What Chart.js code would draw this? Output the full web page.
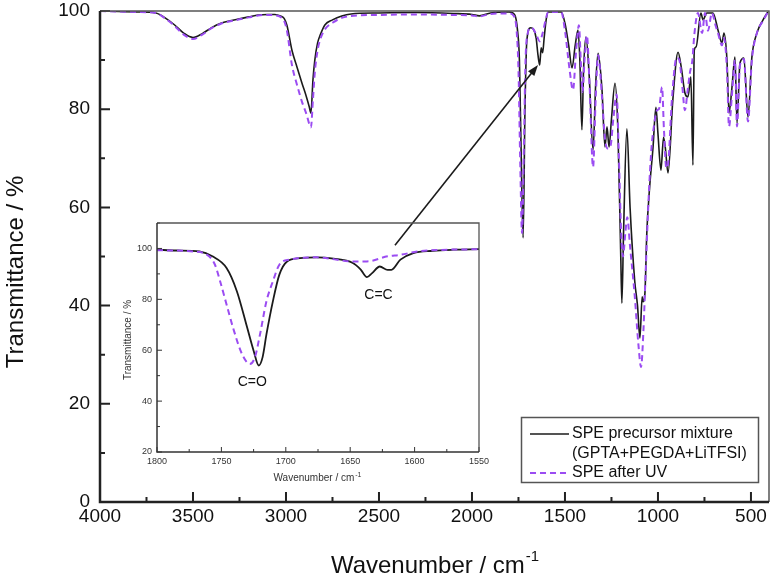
<!DOCTYPE html>
<html>
<head>
<meta charset="utf-8">
<script src="https://cdn.jsdelivr.net/npm/chart.js@4.4.1/dist/chart.umd.min.js"></script>
<style>
  html, body { margin: 0; padding: 0; background: #fff; }
  #wrap { position: relative; width: 774px; height: 577px; }
  #wrap canvas { position: absolute; left: 0; top: 0; }
</style>
</head>
<body>
<div id="wrap">
  <canvas id="main" width="774" height="577"></canvas>
  <canvas id="inset" width="774" height="577"></canvas>
</div>
<script>
const FONT = "'Liberation Sans', Arial, sans-serif";
const BLACK = '#1b1b1b';
const PURPLE = '#9b4cf2';

// main FTIR spectra (wavenumber cm-1, transmittance %)
const precursorWn = [4000,3900,3800,3700,3650,3600,3550,3500,3450,3400,3350,3300,3250,3200,3150,3100,3060,3030,3010,2995,2968,2941,2914,2890,2875,2866,2855,2845,2830,2815,2790,2750,2700,2650,2500,2300,2100,2000,1960,1900,1800,1770,1755,1745,1735,1725,1715,1705,1685,1670,1655,1645,1636,1628,1620,1612,1600,1590,1520,1500,1480,1462,1445,1430,1420,1409,1400,1387,1370,1349,1335,1322,1301,1285,1274,1263,1250,1231,1215,1200,1194,1185,1167,1150,1125,1110,1097,1085,1080,1070,1060,1045,1027,1011,1000,984,970,960,946,920,892,875,855,839,823,812,805,795,769,758,737,704,677,656,645,629,618,602,586,575,559,538,516,495,468,435,409];
const precursorT = [100,99.9,99.8,99.6,98.6,97.2,95.5,94.6,95.4,96.6,97.5,98.0,98.4,98.8,99.2,99.3,99.3,99.0,98.5,97.1,92,88.6,85.3,82.5,80.5,79.2,86,90,93.5,95.2,97.2,98.2,99,99.4,99.6,99.7,99.5,99.3,99.0,99.6,99.8,99.2,96,90,70,53.8,80,94,96.6,96.3,94.5,91,89,92.5,91.5,94.5,98.5,99.8,99.8,97.5,93,88.4,93,96.1,90,75.8,88,94.7,87,71.7,85,91.4,84,72.3,76.4,72.3,78,85.3,75.2,50,40.5,55,76,60,45,40,33.4,41.8,40.8,42.6,54.8,64,72,80.4,75,67.6,74.3,72,67,81.9,91.6,88.6,83.3,82.5,86.6,68.6,92,92.7,99.6,98.2,99.6,99.6,96.1,93.5,95.5,90,79.2,84.5,90.6,77.2,89.4,90.4,78.4,90.6,95.5,98.2,99.8];

const uvWn = [4000,3900,3800,3700,3650,3600,3550,3500,3450,3400,3350,3300,3250,3200,3150,3100,3060,3030,3010,2995,2968,2941,2914,2890,2875,2866,2855,2845,2830,2815,2790,2750,2700,2650,2500,2300,2100,2000,1960,1900,1800,1775,1760,1750,1740,1731,1722,1712,1700,1685,1670,1650,1636,1620,1605,1590,1520,1500,1475,1457,1440,1425,1415,1405,1395,1382,1368,1349,1335,1322,1300,1285,1270,1255,1240,1222,1210,1198,1188,1175,1165,1150,1125,1105,1091,1078,1065,1050,1035,1020,1005,995,978,968,955,945,925,900,885,870,855,840,828,815,805,785,763,747,731,710,690,677,656,645,629,618,602,586,575,559,538,516,495,468,435,409];
const uvT = [100,99.9,99.8,99.6,98.5,97.0,95.2,94.3,95.2,96.5,97.4,97.9,98.3,98.7,99.1,99.2,99.1,98.8,98,96,89,85,81.5,79,77,76.3,82,87.5,92,94.3,96.3,97.6,98.6,99.0,99.2,99.3,99.2,99.1,98.9,99.4,99.5,99,96,88,68,54.8,70,90,95.5,96.6,96.3,94.8,93.8,95.5,98,99.8,99.8,96,88,83.9,92,97.1,90,83.5,90,95,85,68.2,82,91,82,74,72,72.5,78,83,70,55,50,55,58,52,42,32,27.5,35,48,62,72,77,79.8,80,84.5,76,68,69,82,90.5,90,85,79.8,84,87.5,90,95,99.6,95.5,99.6,96,99.6,97,95.5,93,94.5,88,76.5,83,90,76.5,89,90.2,77.5,90,95.5,98,99.8];

// inset: carbonyl / vinyl region
const insetPrecursorWn = [1800,1785,1767,1757,1746,1738,1730,1725,1721,1718,1715,1710,1705,1699,1689,1676,1663,1648,1642,1637,1633,1627,1621,1618,1611,1601,1586,1570,1550];
const insetPrecursorT = [99.5,99.2,98.8,96.9,92.3,83.2,68.9,59.8,54,57.3,66.3,79.3,89.7,94.9,96.2,96.5,96,94.3,91.8,88.7,90.3,92.9,91.6,91.6,95.6,98.2,99.1,99.5,99.7];
const insetUvWn = [1800,1772,1761,1755,1751,1746,1741,1734,1728,1724,1720,1715,1710,1705,1697,1676,1648,1637,1621,1611,1598,1580,1550];
const insetUvT = [99.3,98.8,97.5,93.6,87.1,78,68.9,58.5,54.6,57.2,66.3,79.3,87.1,93.6,95.6,96.5,94.9,94.9,96.9,97.5,98.8,99.4,99.7];

const mainXTicks = [4000,3500,3000,2500,2000,1500,1000,500];
const mainYTicks = [0,20,40,60,80,100];
const insetXTicks = [1800,1750,1700,1650,1600,1550];
const insetYTicks = [20,40,60,80,100];

const seriesNames = ['SPE precursor mixture', '(GPTA+PEGDA+LiTFSI)', 'SPE after UV'];
const bandLabels = [{text: 'C=O', wn: 1726, t: 47.3}, {text: 'C=C', wn: 1628, t: 81.7}];
const arrowFrom = [2414, 52.3];
const arrowTo = [1645, 89];

const pts = (xs, ys) => xs.map((x, i) => ({x: x, y: ys[i]}));
const plain = v => String(v);

function drawFrame(chart, f) {
  const {ctx, chartArea: a, scales: {x, y}} = chart;
  ctx.save();
  ctx.strokeStyle = f.color;
  ctx.lineWidth = f.tickWidth;
  ctx.beginPath();
  for (let v = Math.ceil(x.min / f.xMinor) * f.xMinor; v <= x.max; v += f.xMinor) {
    const len = v % f.xMajor === 0 ? f.major : f.minor;
    const px = x.getPixelForValue(v);
    ctx.moveTo(px, a.bottom); ctx.lineTo(px, a.bottom - len);
  }
  for (let v = Math.ceil(y.min / f.yMinor) * f.yMinor; v <= y.max; v += f.yMinor) {
    const len = v % f.yMajor === 0 ? f.major : f.minor;
    const py = y.getPixelForValue(v);
    ctx.moveTo(a.left, py); ctx.lineTo(a.left + len, py);
  }
  ctx.stroke();
  ctx.lineWidth = f.boxWidth;
  ctx.strokeStyle = f.boxColor;
  ctx.beginPath();
  ctx.moveTo(a.left, a.top); ctx.lineTo(a.right, a.top); ctx.lineTo(a.right, a.bottom);
  ctx.stroke();
  ctx.lineWidth = f.axisWidth;
  ctx.strokeStyle = f.color;
  ctx.beginPath();
  ctx.moveTo(a.left, a.top); ctx.lineTo(a.left, a.bottom); ctx.lineTo(a.right, a.bottom);
  ctx.stroke();
  ctx.restore();
}

// title with a "-1" superscript after the main text
function drawWavenumberTitle(ctx, cx, baseline, size, supSize, rise) {
  const main = 'Wavenumber / cm', sup = '-1';
  ctx.font = size + 'px ' + FONT;
  const w1 = ctx.measureText(main).width;
  ctx.font = supSize + 'px ' + FONT;
  const w2 = ctx.measureText(sup).width;
  const x0 = cx - (w1 + w2) / 2;
  ctx.textAlign = 'left';
  ctx.textBaseline = 'alphabetic';
  ctx.font = size + 'px ' + FONT;
  ctx.fillText(main, x0, baseline);
  ctx.font = supSize + 'px ' + FONT;
  ctx.fillText(sup, x0 + w1 + 1, baseline - rise);
}

const mainDecor = {
  id: 'mainDecor',
  afterDraw(chart) {
    const {ctx, scales: {x, y}} = chart;
    drawFrame(chart, {color: '#222', boxColor: '#555', tickWidth: 2, axisWidth: 2.5, boxWidth: 1.5,
      major: 10, minor: 5, xMajor: 500, xMinor: 250, yMajor: 20, yMinor: 10});

    // arrow from the inset to the C=C band
    const x1 = x.getPixelForValue(arrowFrom[0]), y1 = y.getPixelForValue(arrowFrom[1]);
    const x2 = x.getPixelForValue(arrowTo[0]), y2 = y.getPixelForValue(arrowTo[1]);
    const ang = Math.atan2(y2 - y1, x2 - x1);
    ctx.save();
    ctx.strokeStyle = BLACK; ctx.fillStyle = BLACK; ctx.lineWidth = 1.6;
    ctx.beginPath();
    ctx.moveTo(x1, y1);
    ctx.lineTo(x2 - 8 * Math.cos(ang), y2 - 8 * Math.sin(ang));
    ctx.stroke();
    ctx.beginPath();
    ctx.moveTo(x2, y2);
    ctx.lineTo(x2 - 11 * Math.cos(ang) + 4 * Math.sin(ang), y2 - 11 * Math.sin(ang) - 4 * Math.cos(ang));
    ctx.lineTo(x2 - 11 * Math.cos(ang) - 4 * Math.sin(ang), y2 - 11 * Math.sin(ang) + 4 * Math.cos(ang));
    ctx.closePath();
    ctx.fill();

    // axis titles
    ctx.fillStyle = '#111';
    ctx.font = '24px ' + FONT;
    ctx.save();
    ctx.translate(23, 272);
    ctx.rotate(-Math.PI / 2);
    ctx.textAlign = 'center';
    ctx.textBaseline = 'alphabetic';
    ctx.fillText('Transmittance / %', 0, 0);
    ctx.restore();
    drawWavenumberTitle(ctx, 434.5, 573, 24, 15, 12);

    // legend
    ctx.lineWidth = 1.5;
    ctx.strokeStyle = '#555';
    ctx.strokeRect(521.5, 417.5, 237, 65);
    ctx.lineWidth = 1.6;
    ctx.strokeStyle = BLACK;
    ctx.beginPath(); ctx.moveTo(530, 434); ctx.lineTo(569, 434); ctx.stroke();
    ctx.lineWidth = 2;
    ctx.strokeStyle = PURPLE;
    ctx.setLineDash([6, 4]);
    ctx.beginPath(); ctx.moveTo(530, 473); ctx.lineTo(569, 473); ctx.stroke();
    ctx.setLineDash([]);
    ctx.fillStyle = '#111';
    ctx.font = '16px ' + FONT;
    ctx.textAlign = 'left';
    ctx.textBaseline = 'middle';
    ctx.fillText(seriesNames[0], 572, 434);
    ctx.fillText(seriesNames[1], 572, 454);
    ctx.fillText(seriesNames[2], 572, 473);
    ctx.restore();
  }
};

const insetDecor = {
  id: 'insetDecor',
  afterDraw(chart) {
    const {ctx, scales: {x, y}} = chart;
    drawFrame(chart, {color: '#333', boxColor: '#555', tickWidth: 1, axisWidth: 1.5, boxWidth: 1.3,
      major: 5, minor: 3, xMajor: 50, xMinor: 25, yMajor: 20, yMinor: 10});
    ctx.save();
    ctx.fillStyle = '#111';
    ctx.font = '14px ' + FONT;
    ctx.textAlign = 'center';
    ctx.textBaseline = 'middle';
    bandLabels.forEach(b => ctx.fillText(b.text, x.getPixelForValue(b.wn), y.getPixelForValue(b.t)));
    ctx.fillStyle = '#333';
    ctx.font = '10px ' + FONT;
    ctx.save();
    ctx.translate(128, 340);
    ctx.rotate(-Math.PI / 2);
    ctx.fillText('Transmittance / %', 0, 0);
    ctx.restore();
    drawWavenumberTitle(ctx, 317, 481, 10, 7, 4);
    ctx.restore();
  }
};

const lineSet = (label, data, color, width, dash, order) => ({
  label: label, data: data, borderColor: color, borderWidth: width, borderDash: dash,
  pointRadius: 0, fill: false, cubicInterpolationMode: 'monotone', order: order
});

new Chart(document.getElementById('main'), {
  type: 'line',
  data: {
    datasets: [
      lineSet(seriesNames[0], pts(precursorWn, precursorT), BLACK, 1.6, [], 1),
      lineSet(seriesNames[2], pts(uvWn, uvT), PURPLE, 2, [6, 4], 0)
    ]
  },
  options: {
    responsive: false,
    animation: false,
    events: [],
    layout: {padding: {left: 0, right: 5, top: 11, bottom: 0}},
    plugins: {legend: {display: false}, tooltip: {enabled: false}},
    scales: {
      x: {
        type: 'linear', reverse: true, min: 403, max: 4000,
        afterBuildTicks: s => { s.ticks = mainXTicks.map(v => ({value: v})); },
        afterFit: s => { s.height = 75; s.paddingLeft = 0; s.paddingRight = 0; },
        grid: {display: false, drawTicks: false}, border: {display: false},
        ticks: {padding: 3, color: '#111', font: {family: FONT, size: 19}, callback: plain}
      },
      y: {
        type: 'linear', min: 0, max: 100,
        afterBuildTicks: s => { s.ticks = mainYTicks.map(v => ({value: v})); },
        afterFit: s => { s.width = 100; s.paddingTop = 0; s.paddingBottom = 0; },
        grid: {display: false, drawTicks: false}, border: {display: false},
        ticks: {padding: 10, color: '#111', font: {family: FONT, size: 19}, callback: plain}
      }
    }
  },
  plugins: [mainDecor]
});

new Chart(document.getElementById('inset'), {
  type: 'line',
  data: {
    datasets: [
      lineSet(seriesNames[0], pts(insetPrecursorWn, insetPrecursorT), BLACK, 1.8, [], 1),
      lineSet(seriesNames[2], pts(insetUvWn, insetUvT), PURPLE, 2, [6, 4], 0)
    ]
  },
  options: {
    responsive: false,
    animation: false,
    events: [],
    layout: {padding: {left: 0, right: 295, top: 223, bottom: 0}},
    plugins: {legend: {display: false}, tooltip: {enabled: false}},
    scales: {
      x: {
        type: 'linear', reverse: true, min: 1550, max: 1800,
        afterBuildTicks: s => { s.ticks = insetXTicks.map(v => ({value: v})); },
        afterFit: s => { s.height = 125; },
        grid: {display: false, drawTicks: false}, border: {display: false},
        ticks: {padding: 4, color: '#333', font: {family: FONT, size: 9}, callback: plain}
      },
      y: {
        type: 'linear', min: 20, max: 110,
        afterBuildTicks: s => { s.ticks = insetYTicks.map(v => ({value: v})); },
        afterFit: s => { s.width = 157; },
        grid: {display: false, drawTicks: false}, border: {display: false},
        ticks: {padding: 5, color: '#333', font: {family: FONT, size: 9}, callback: plain}
      }
    }
  },
  plugins: [insetDecor]
});
</script>
</body>
</html>
